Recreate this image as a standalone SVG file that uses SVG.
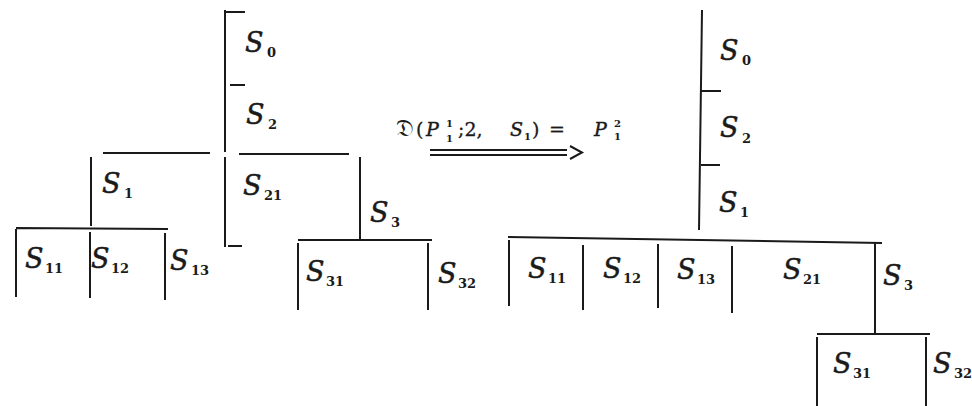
<svg xmlns="http://www.w3.org/2000/svg" width="972" height="406" viewBox="0 0 972 406">
<style>
.ln{stroke:#1a1a1a;stroke-width:2;fill:none;stroke-linecap:butt}
.s{font-family:"DejaVu Serif","Liberation Serif",serif;font-style:italic;font-size:27px;fill:#1a1a1a;stroke:#1a1a1a;stroke-width:0.5}
.sub{font-family:"DejaVu Serif","Liberation Serif",serif;font-weight:bold;font-size:13px;fill:#1a1a1a}
.f{font-family:"DejaVu Serif","Liberation Serif",serif;font-size:19px;fill:#1a1a1a;stroke:#1a1a1a;stroke-width:0.3}
.fi{font-family:"DejaVu Serif","Liberation Serif",serif;font-style:italic;font-size:19px;fill:#1a1a1a;stroke:#1a1a1a;stroke-width:0.4}
.fs{font-family:"DejaVu Serif","Liberation Serif",serif;font-weight:bold;font-size:10px;fill:#1a1a1a}
.fr{font-family:"DejaVu Serif","DejaVu Sans","Noto Sans",serif;font-size:24px;fill:#1a1a1a}
</style>
<rect width="972" height="406" fill="#ffffff"/>
<g id="connectors">
<path class="ln" d="M225 10V152M225 157V247M225 12H245M230 85H245M228 246H242"/>
<path class="ln" d="M103 153H210M239 154H349"/>
<path class="ln" d="M91 157V226M16 228L168 229M16 229V297M90 232V298M165 233V300"/>
<path class="ln" d="M360 157V239M298 240H432M298 243V310M428 243V310"/>
<path class="ln" d="M430 150H567M430 155H567" stroke-width="1.6"/>
<path class="ln" d="M570 146L582 152.5L570 159" stroke-width="1.6"/>
<path class="ln" d="M702 10L699 230M701 91H721M701 165H720"/>
<path class="ln" d="M508 237L882 243"/>
<path class="ln" d="M509 240V306M583 245V310M658 244V308M732 246V313M875 243V333"/>
<path class="ln" d="M817 334H930M817 337V406M926 337V406"/>
</g>
<g id="left-S0"><text class="s" x="245" y="52">S</text><text class="sub" x="267" y="57">0</text></g>
<g id="left-S2"><text class="s" x="246" y="124">S</text><text class="sub" x="268" y="129">2</text></g>
<g id="left-S21"><text class="s" x="243" y="195">S</text><text class="sub" x="264" y="200">21</text></g>
<g id="left-S1"><text class="s" x="102" y="193">S</text><text class="sub" x="124" y="198">1</text></g>
<g id="left-S3"><text class="s" x="370" y="222">S</text><text class="sub" x="391" y="227">3</text></g>
<g id="left-S11"><text class="s" x="25" y="268">S</text><text class="sub" x="45" y="273">11</text></g>
<g id="left-S12"><text class="s" x="91" y="268">S</text><text class="sub" x="111" y="273">12</text></g>
<g id="left-S13"><text class="s" x="170" y="270">S</text><text class="sub" x="191" y="275">13</text></g>
<g id="left-S31"><text class="s" x="306" y="281">S</text><text class="sub" x="326" y="286">31</text></g>
<g id="left-S32"><text class="s" x="438" y="283">S</text><text class="sub" x="458" y="288">32</text></g>
<g id="formula">
<text class="fr" x="396" y="136">𝔇</text>
<text class="f" x="416" y="136">(</text>
<text class="fi" x="426" y="136">P</text>
<text class="fs" x="446" y="127">1</text>
<text class="fs" x="446" y="142">1</text>
<text class="f" x="458" y="136">;2,</text>
<text class="fi" x="510" y="136">S</text>
<text class="fs" x="524" y="140">1</text>
<text class="f" x="532" y="136">)</text>
<text class="f" x="549" y="136">=</text>
<text class="fi" x="594" y="136">P</text>
<text class="fs" x="614" y="127">2</text>
<text class="fs" x="614" y="140">1</text>
</g>
<g id="right-S0"><text class="s" x="720" y="60">S</text><text class="sub" x="742" y="65">0</text></g>
<g id="right-S2"><text class="s" x="720" y="137">S</text><text class="sub" x="742" y="143">2</text></g>
<g id="right-S1"><text class="s" x="719" y="212">S</text><text class="sub" x="740" y="217">1</text></g>
<g id="right-S11"><text class="s" x="528" y="278">S</text><text class="sub" x="548" y="283">11</text></g>
<g id="right-S12"><text class="s" x="603" y="278">S</text><text class="sub" x="623" y="283">12</text></g>
<g id="right-S13"><text class="s" x="677" y="279">S</text><text class="sub" x="697" y="284">13</text></g>
<g id="right-S21"><text class="s" x="783" y="279">S</text><text class="sub" x="803" y="284">21</text></g>
<g id="right-S3"><text class="s" x="883" y="285">S</text><text class="sub" x="904" y="290">3</text></g>
<g id="right-S31"><text class="s" x="833" y="373">S</text><text class="sub" x="853" y="378">31</text></g>
<g id="right-S32"><text class="s" x="933" y="373">S</text><text class="sub" x="954" y="378">32</text></g>
</svg>
